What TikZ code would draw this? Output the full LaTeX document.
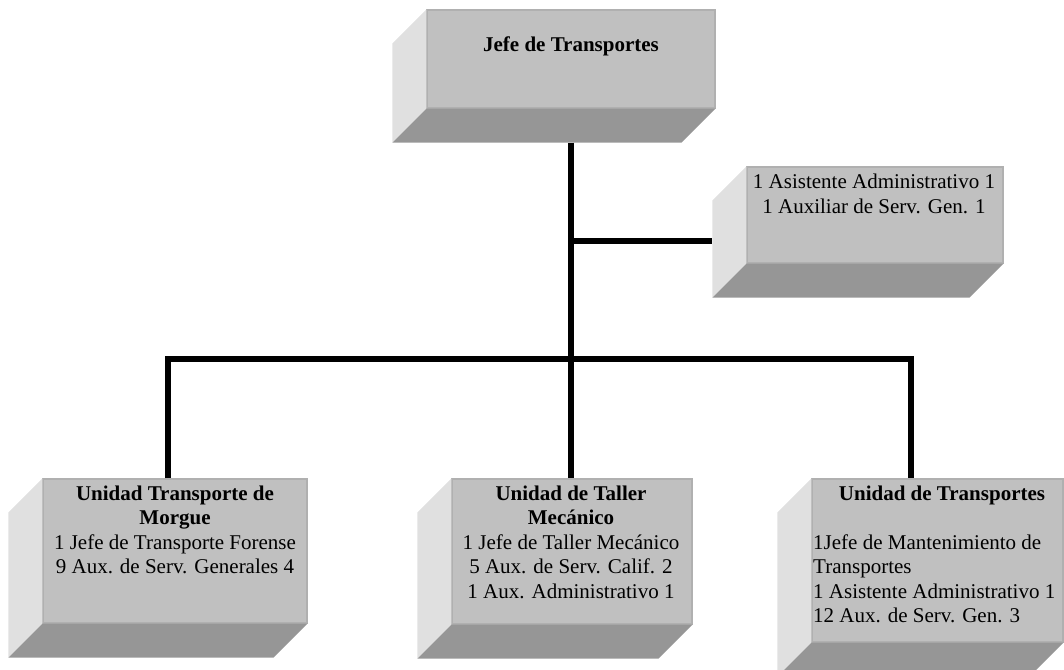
\documentclass[tikz,border=0pt]{standalone}
\usepackage{fontspec}
\setmainfont{Liberation Serif}
\usetikzlibrary{calc}

\definecolor{facegray}{HTML}{C0C0C0}
\definecolor{faceedge}{HTML}{B0B0B0}
\definecolor{sidegray}{HTML}{E0E0E0}
\definecolor{bottomgray}{HTML}{969696}

\tikzset{
  face/.style={draw=faceedge, line width=1.2pt, fill=facegray, inner sep=0pt},
  label/.style={inner sep=0pt, font={\fontsize{21}{24.4}\selectfont}},
  conn/.style={line width=6pt, line join=miter, line cap=butt},
}

% front face of a block, then its left and bottom faces (depth 34)
\newcommand{\orgblock}[5]{%
  \node[face, minimum width=#4pt, minimum height=#5pt] (#1) at (#2,#3) {};
  \fill[sidegray] (#1.north west) -- ($(#1.north west)+(-34,34)$)
     -- ($(#1.south west)+(-34,34)$) -- (#1.south west) -- cycle;
  \fill[bottomgray] (#1.south west) -- (#1.south east)
     -- ($(#1.south east)+(-34,34)$) -- ($(#1.south west)+(-34,34)$) -- cycle;
}

\begin{document}
\begin{tikzpicture}[x=1pt, y=-1pt]
  \useasboundingbox (0,0) rectangle (1064,669);
  \clip (0,0) rectangle (1064,669);

  % blocks
  \orgblock{jefe}{571}{59}{288}{98}
  \orgblock{asist}{875}{215}{256}{96}
  \orgblock{morgue}{175}{551}{264}{144}
  \orgblock{taller}{572}{551.5}{240}{145}
  \orgblock{unidad}{937.5}{560.5}{251}{163}

  % texts (base anchor sits on the last line)
  \node[label, anchor=base] (jefeT) at (571,52) {\textbf{Jefe de Transportes}};
  \node[label, anchor=base, align=center] (asistT) at (874,213)
    {1 Asistente Administrativo 1\\1 Auxiliar de Serv. Gen. 1};
  \node[label, anchor=base, align=center] (morgueT) at (175,573.5)
    {\textbf{Unidad Transporte de}\\\textbf{Morgue}\\1 Jefe de Transporte Forense\\9 Aux. de Serv. Generales 4};
  \node[label, anchor=base, align=center] (tallerT) at (571,598)
    {\textbf{Unidad de Taller}\\\textbf{Mecánico}\\1 Jefe de Taller Mecánico\\5 Aux. de Serv. Calif. 2\\1 Aux. Administrativo 1};
  \node[label, anchor=base] (unidadT) at (942,500) {\textbf{Unidad de Transportes}};
  \node[label, anchor=base west, align=left] (unidadL) at (813,622.5)
    {1Jefe de Mantenimiento de\\Transportes\\1 Asistente Administrativo 1\\12 Aux. de Serv. Gen. 3};

  % connector points
  \coordinate (bus) at (571,359);
  \coordinate (joinA) at (571,241);
  \coordinate (asistL) at ($(asist.west)+(-34,0)$);
  \coordinate (dropA) at (168,359);
  \coordinate (dropC) at (911,359);

  % connectors
  \draw[conn] ($(jefe.south)+(0,34)$) -- (bus);
  \draw[conn] (joinA) -- (joinA -| asistL);
  \draw[conn] (dropA |- morgue.north) -- (dropA) -- (dropC) -- (dropC |- unidad.north);
  \draw[conn] (bus) -- (bus |- taller.north);
\end{tikzpicture}
\end{document}
